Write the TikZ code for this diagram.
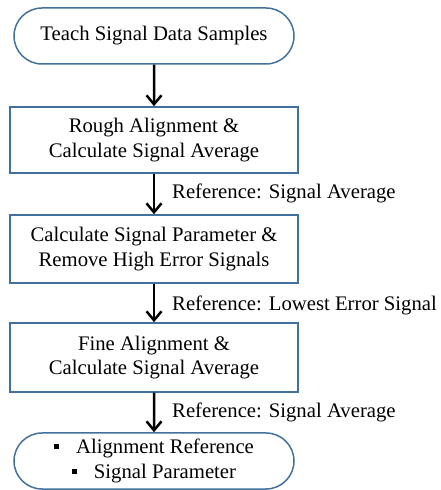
\documentclass[tikz,border=0pt]{standalone}
\usepackage{fontspec}
\setmainfont{Liberation Serif}
\usetikzlibrary{arrows.meta,shapes.misc}
\definecolor{boxblue}{HTML}{41719C}
\tikzset{
  stepbox/.style={draw=boxblue,line width=1.5bp,minimum width=288bp,inner xsep=4bp,align=center,font=\fontsize{20.8}{24.5}\selectfont,fill=white},
  termbox/.style={stepbox,rounded rectangle},
  flow/.style={line width=2.5bp,-{Straight Barb[length=9bp,width=15bp,line width=2.5bp]}},
  lbl/.style={anchor=west,font=\fontsize{20.8}{24.5}\selectfont,inner sep=0pt}
}
\newcommand{\bul}{\rule[0.22em]{5bp}{5bp}\hspace{17bp}}
\begin{document}
\begin{tikzpicture}[x=1bp,y=1bp]
\useasboundingbox (0,0) rectangle (441,490);
\node[termbox,minimum height=56bp] (start) at (154,454) {Teach Signal Data Samples};
\node[stepbox,minimum height=66bp] (b1) at (154,350) {Rough Alignment \&\\Calculate Signal Average};
\node[stepbox,minimum height=68bp] (b2) at (154,241) {Calculate Signal Parameter \&\\Remove High Error Signals};
\node[stepbox,minimum height=69bp] (b3) at (154,132.5) {Fine Alignment \&\\Calculate Signal Average};
\node[termbox,minimum height=56bp] (end) at (154,29) {\bul Alignment Reference\\\bul Signal Parameter};
\draw[flow] (start) -- (b1);
\draw[flow] (b1) -- (b2);
\draw[flow] (b2) -- (b3);
\draw[flow] (b3) -- (end);
\node[lbl] (l1) at (172,297) {Reference: Signal Average};
\node[lbl] (l2) at (172,185) {Reference: Lowest Error Signal};
\node[lbl] (l3) at (172,78) {Reference: Signal Average};
\end{tikzpicture}
\end{document}
